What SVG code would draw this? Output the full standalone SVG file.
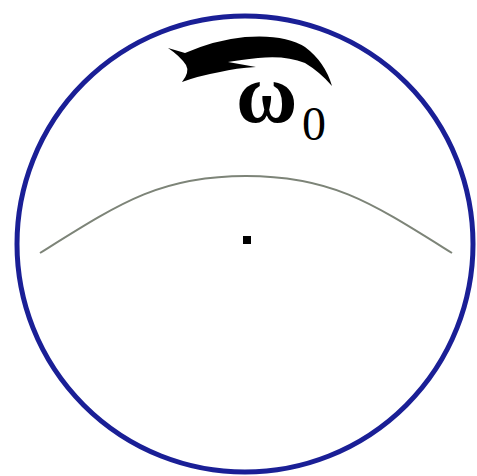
<svg xmlns="http://www.w3.org/2000/svg" width="477" height="476" viewBox="0 0 477 476">
<style>
.t{font-family:"Liberation Serif",serif;fill:#000}
</style>
<rect width="477" height="476" fill="#fff"/>
<g id="disk">
<circle cx="245" cy="244" r="228" fill="none" stroke="#1a1f96" stroke-width="5"/>
</g>
<g id="arc">
<path d="M40 253 C120 203 160 176 246 176 C332 176 372 203 452 253" fill="none" stroke="#7d8478" stroke-width="2"/>
</g>
<g id="center">
<rect x="243" y="236" width="8" height="8" fill="#000"/>
</g>
<g id="rotation">
<path d="M168 48 L185 53 Q215 40 245 37 Q285 34 305 47 Q325 62 332 86 Q320 72 305 63 Q285 55 258 58 Q240 60 228 62 L256 67 Q236 68 220 72 Q198 76 182 82 Q190 72 186 65 Q180 56 168 48 Z" fill="#000"/>
</g>
<g id="label">
<text class="t" x="236" y="122" font-size="84" font-weight="bold">ω</text>
<text class="t" x="302" y="140" font-size="48">0</text>
</g>
</svg>
